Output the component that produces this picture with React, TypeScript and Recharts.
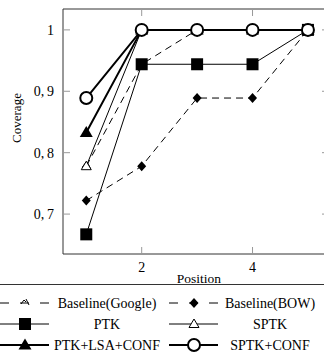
import React from "react";
import { LineChart, Line, XAxis, YAxis, ReferenceArea } from "recharts";

// positions on the x axis
const positions = [1, 2, 3, 4, 5];

// coverage per series (they fall on 1/18 steps)
const baselineGoogle = [0.778, 0.944, 1, 1, 1];
const baselineBow = [0.722, 0.778, 0.889, 0.889, 1];
const ptk = [0.667, 0.944, 0.944, 0.944, 1];
const sptk = [0.778, 1, 1, 1, 1];
const ptkLsaConf = [0.833, 1, 1, 1, 1];
const sptkConf = [0.889, 1, 1, 1, 1];

const seriesNames = [
  "Baseline(Google)",
  "Baseline(BOW)",
  "PTK",
  "SPTK",
  "PTK+LSA+CONF",
  "SPTK+CONF",
];

const xTicks = [2, 4];
const yTicks = [0.7, 0.8, 0.9, 1];

const FONT = "Liberation Serif, Times New Roman, DejaVu Serif, serif";
const txt = { fontFamily: FONT };
const PLOT_LEFT = 63;
const PLOT_RIGHT = 329;
const PLOT_TOP = 9;
const PLOT_BOTTOM = 254;

const data = positions.map((pos, i) => ({
  pos,
  google: baselineGoogle[i],
  bow: baselineBow[i],
  ptk: ptk[i],
  sptk: sptk[i],
  ptkLsa: ptkLsaConf[i],
  sptkConf: sptkConf[i],
}));

// marker shapes
type Shape = (cx: number, cy: number) => React.ReactElement;

const googleMark: Shape = (cx, cy) => (
  <path
    d={`M${cx - 4},${cy + 1} L${cx - 1},${cy - 3} L${cx + 1},${cy - 1} M${cx + 1},${cy - 4} L${cx + 4},${cy + 2}`}
    fill="none"
    stroke="#000"
    strokeWidth={1}
  />
);
const diamond: Shape = (cx, cy) => (
  <path d={`M${cx},${cy - 5}L${cx + 4.5},${cy}L${cx},${cy + 5}L${cx - 4.5},${cy}Z`} fill="#000" />
);
const square: Shape = (cx, cy) => (
  <rect x={cx - 6} y={cy - 6} width={12} height={12} fill="#000" />
);
const openTri: Shape = (cx, cy) => (
  <path
    d={`M${cx},${cy - 5}L${cx + 5},${cy + 3.5}L${cx - 5},${cy + 3.5}Z`}
    fill="#fff"
    stroke="#000"
    strokeWidth={1}
  />
);
const filledTri: Shape = (cx, cy) => (
  <path d={`M${cx},${cy - 6.5}L${cx + 6.5},${cy + 4.5}L${cx - 6.5},${cy + 4.5}Z`} fill="#000" />
);
const circle: Shape = (cx, cy) => (
  <circle cx={cx} cy={cy} r={6} fill="#fff" stroke="#000" strokeWidth={2} />
);

const series = [
  { key: "google", shape: googleMark, width: 1, dash: "7 5" },
  { key: "bow", shape: diamond, width: 1, dash: "7 5" },
  { key: "ptk", shape: square, width: 1, dash: undefined },
  { key: "sptk", shape: openTri, width: 1, dash: undefined },
  { key: "ptkLsa", shape: filledTri, width: 2, dash: undefined },
  { key: "sptkConf", shape: circle, width: 2, dash: undefined },
];

const fmtY = (v: number) => (v === 1 ? "1" : "0,\u2009" + Math.round(v * 10));

const YTick = (props: any) => {
  const { x, y, payload } = props;
  return (
    <g>
      <line x1={PLOT_LEFT} x2={PLOT_LEFT + 7} y1={y} y2={y} stroke="#999" />
      <line x1={PLOT_RIGHT - 7} x2={PLOT_RIGHT} y1={y} y2={y} stroke="#999" />
      <text x={x} y={y} dy="0.35em" textAnchor="end" fontSize={14} style={txt} fill="#000">
        {fmtY(payload.value)}
      </text>
    </g>
  );
};

const XTick = (props: any) => {
  const { x, y, payload } = props;
  return (
    <g>
      <line x1={x} x2={x} y1={PLOT_BOTTOM} y2={PLOT_BOTTOM - 7} stroke="#999" />
      <line x1={x} x2={x} y1={PLOT_TOP} y2={PLOT_TOP + 7} stroke="#999" />
      <text x={x} y={y} dy="0.71em" textAnchor="middle" fontSize={14} style={txt} fill="#000">
        {payload.value}
      </text>
    </g>
  );
};

function LegendBox() {
  const colX = [25, 194];
  const labelX = [107, 270];
  const rowY = [19, 40, 61];
  return (
    <svg width={324} height={78} style={{ position: "absolute", left: 0, top: 284 }}>
      <line x1={0} x2={324} y1={0.5} y2={0.5} stroke="#333" strokeWidth={1} />
      {series.map((s, i) => {
        const cx = colX[i % 2];
        const cy = rowY[Math.floor(i / 2)];
        return (
          <g key={s.key}>
            <line
              x1={cx - 25}
              x2={cx + 24}
              y1={cy}
              y2={cy}
              stroke="#000"
              strokeWidth={s.width}
              strokeDasharray={s.dash ? "9 11" : undefined}
            />
            {s.shape(cx, cy)}
            <text
              x={labelX[i % 2]}
              y={cy}
              dy="0.35em"
              textAnchor="middle"
              fontSize={14}
              style={txt}
              fill="#000"
            >
              {seriesNames[i]}
            </text>
          </g>
        );
      })}
    </svg>
  );
}

export default function App() {
  return (
    <div style={{ position: "absolute", left: 0, top: 0, width: 324, height: 362, overflow: "hidden", fontFamily: FONT }}>
      <LineChart
        width={340}
        height={362}
        data={data}
        margin={{ top: PLOT_TOP, right: 340 - PLOT_RIGHT, left: 0, bottom: 78 }}
      >
        <ReferenceArea
          x1={0.58}
          x2={5.38}
          y1={0.635}
          y2={1.034}
          fill="none"
          stroke="#333"
          strokeWidth={1}
          ifOverflow="visible"
        />
        <XAxis
          dataKey="pos"
          type="number"
          domain={[0.58, 5.38]}
          ticks={xTicks}
          height={30}
          axisLine={false}
          tickSize={0}
          tickMargin={8}
          tick={<XTick />}
          label={(p: any) => (
            <text
              x={p.viewBox.x + p.viewBox.width / 2 + 3}
              y={PLOT_BOTTOM + 29}
              textAnchor="middle"
              fontSize={13.5}
              style={txt}
              fill="#000"
            >
              Position
            </text>
          )}
        />
        <YAxis
          type="number"
          domain={[0.635, 1.034]}
          ticks={yTicks}
          width={PLOT_LEFT}
          axisLine={false}
          tickSize={0}
          tickMargin={9}
          tick={<YTick />}
          allowDataOverflow
          label={() => (
            <text
              transform={`translate(${21},${118}) rotate(-90)`}
              textAnchor="middle"
              fontSize={13}
              style={txt}
              fill="#000"
            >
              Coverage
            </text>
          )}
        />
        {series.map((s) => (
          <Line
            key={s.key}
            dataKey={s.key}
            type="linear"
            stroke="#000"
            strokeWidth={s.width}
            strokeDasharray={s.dash}
            isAnimationActive={false}
            dot={(p: any) => <g key={`${s.key}-${p.index}`}>{s.shape(p.cx, p.cy)}</g>}
            activeDot={false}
          />
        ))}
      </LineChart>
      <LegendBox />
    </div>
  );
}
